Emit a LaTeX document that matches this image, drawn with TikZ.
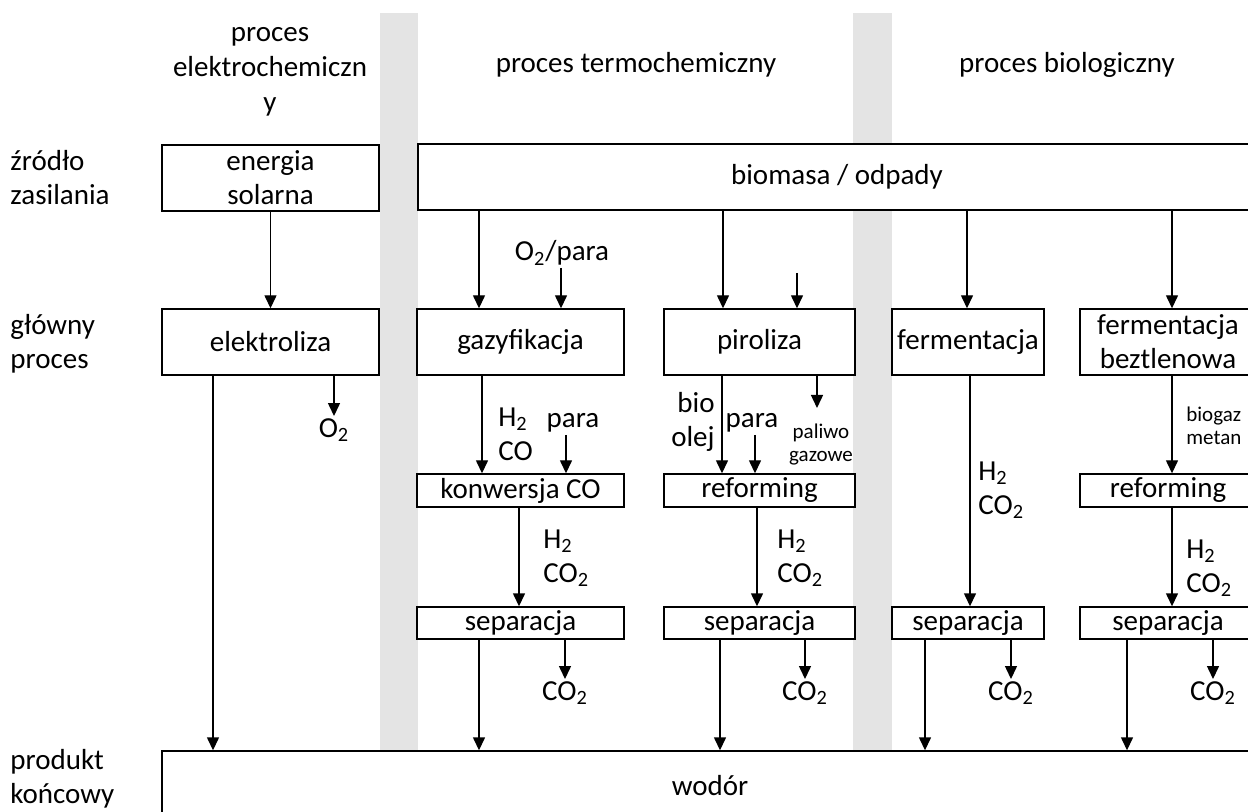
\documentclass[tikz,border=0pt]{standalone}
\usepackage{fontspec}
\setmainfont{Carlito}
\usetikzlibrary{arrows.meta}
\definecolor{band_gray}{RGB}{228, 228, 228}

\tikzset{
  box/.style={draw, fill=white, line width=0.7pt, inner sep=0pt, align=center, minimum height=33pt},
  stage/.style={box, minimum height=16.5pt},
  arr/.style={-{Triangle[width=6pt,length=6.5pt]}, line width=0.7pt},
  lbl/.style={inner sep=1pt, align=left},
  small/.style={font=\fontsize{10.5}{11.5}\selectfont}
}

\begin{document}
\begin{tikzpicture}[x=0.5pt, y=-0.5pt, font=\fontsize{14.5}{17}\selectfont]
\useasboundingbox (0,0) rectangle (1248,812);
\clip (0,0) rectangle (1248,812);

% gray bands between the process groups
\fill[band_gray] (380,13) rectangle (418,750);
\fill[band_gray] (853,13) rectangle (892,750);

% column headers
\node[align=center, font=\fontsize{14.5}{17.5}\selectfont] (helek) at (270,72) {proces\\elektrochemiczn\\y};
\node (hterm) at (636,65) {proces termochemiczny};
\node (hbiol) at (1067,65) {proces biologiczny};

% row labels
\node[lbl, anchor=west] (rsrc) at (8,178) {źródło\\zasilania};
\node[lbl, anchor=west] (rproc) at (8,344) {główny\\proces};
\node[lbl, anchor=west] (rprod) at (8,779) {produkt\\końcowy};

% source row
\node[box, minimum width=108.5pt] (sol) at (270.5,178) {energia\\solarna};
\node[box, minimum width=419pt] (bio) at (837,177) {biomasa / odpady};

% main processes
\node[box, minimum width=108.5pt] (ele) at (270.5,342) {elektroliza};
\node[box, minimum width=103.5pt] (gaz) at (520.5,342) {gazyfikacja};
\node[box, minimum width=95.5pt] (pir) at (759.5,342) {piroliza};
\node[box, minimum width=76pt] (fer) at (968,342) {fermentacja};
\node[box, minimum width=88pt] (ferb) at (1168,342) {fermentacja\\beztlenowa};

% intermediate steps
\node[stage, minimum width=103.5pt] (kon) at (520.5,490.5) {konwersja CO};
\node[stage, minimum width=95.5pt] (refp) at (759.5,490.5) {reforming};
\node[stage, minimum width=88pt] (refb) at (1168,490.5) {reforming};

\node[stage, minimum width=103.5pt, minimum height=16pt] (sep1) at (520.5,623) {separacja};
\node[stage, minimum width=95.5pt, minimum height=16pt] (sep2) at (759.5,623) {separacja};
\node[stage, minimum width=76pt, minimum height=16pt] (sep3) at (968,623) {separacja};
\node[stage, minimum width=88pt, minimum height=16pt] (sep4) at (1168,623) {separacja};

% final product
\node[box, minimum width=548pt, minimum height=34.5pt] (wod) at (710,785.5) {wodór};

% side labels
\node[lbl] (o2) at (334,430) {O\textsubscript{2}};
\node[lbl] (o2p) at (562,253) {O\textsubscript{2}/para};
\node[lbl] (parak) at (573,423) {para};
\node[lbl] (parap) at (752,423) {para};
\node[lbl, anchor=west] (hco) at (496,434) {H\textsubscript{2}\\CO};
\node[lbl, anchor=east, align=right] (olej) at (717,422) {bio\\olej};
\node[lbl, small, align=center] (paliwo) at (821,445) {paliwo\\gazowe};
\node[lbl, anchor=west] (hfer) at (976,490) {H\textsubscript{2}\\CO\textsubscript{2}};
\node[lbl, small, anchor=west] (biogaz) at (1184,426) {biogaz\\metan};
\node[lbl, anchor=west] (hkon) at (541,558) {H\textsubscript{2}\\CO\textsubscript{2}};
\node[lbl, anchor=west] (hrefp) at (775,558) {H\textsubscript{2}\\CO\textsubscript{2}};
\node[lbl, anchor=west] (hrefb) at (1184,568) {H\textsubscript{2}\\CO\textsubscript{2}};
\foreach \n/\x in {1/565, 2/805, 3/1011, 4/1213}
  \node[lbl] (co\n) at (\x,693) {CO\textsubscript{2}};

\coordinate (pirin) at (797,273);
\coordinate (palend) at (817,408);

% connectors
\draw[arr] (sol) -- (ele);
\draw[arr] (ele.south -| 213,0) -- (wod.north -| 213,0);
\draw[arr] (ele.south -| o2) -- (o2.north);

\foreach \t/\x in {gaz/479, pir/723, fer/967, ferb/1172}
  \draw[arr] (bio.south -| \x,0) -- (\t.north -| \x,0);

\draw[arr] (o2p.south -| 561,0) -- (gaz.north -| 561,0);
\draw[arr] (pirin) -- (pir.north -| pirin);

\draw[arr] (gaz.south -| 482,0) -- (kon.north -| 482,0);
\draw[arr] (parak.south -| 566,0) -- (kon.north -| 566,0);
\draw[arr] (pir.south -| 722,0) -- (refp.north -| 722,0);
\draw[arr] (parap.south -| 755,0) -- (refp.north -| 755,0);
\draw[arr] (pir.south -| palend) -- (palend);
\draw[arr] (fer.south -| 970,0) -- (sep3.north -| 970,0);
\draw[arr] (ferb.south -| 1172,0) -- (refb.north -| 1172,0);

\draw[arr] (kon.south -| 519,0) -- (sep1.north -| 519,0);
\draw[arr] (refp.south -| 757,0) -- (sep2.north -| 757,0);
\draw[arr] (refb.south -| 1172,0) -- (sep4.north -| 1172,0);

\foreach \n/\x in {1/479, 2/720, 3/925, 4/1127}
  \draw[arr] (sep\n.south -| \x,0) -- (wod.north -| \x,0);
\foreach \n in {1,2,3,4}
  \draw[arr] (sep\n.south -| co\n) -- (co\n.north);

\end{tikzpicture}
\end{document}
